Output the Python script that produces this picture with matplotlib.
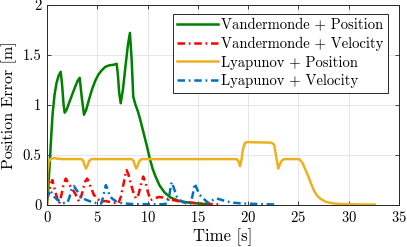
import numpy as np
import matplotlib
matplotlib.use('Agg')
import matplotlib.pyplot as plt

plt.rcParams['font.family'] = 'cmr10'
plt.rcParams['mathtext.fontset'] = 'cm'
plt.rcParams['axes.formatter.use_mathtext'] = True

# Vandermonde + Position
t_vp = [0, 0.1, 0.25, 0.4, 0.55, 0.75, 0.95, 1.15, 1.36, 1.5, 1.65, 1.76, 1.95, 2.2, 2.5,
        2.8, 3.05, 3.25, 3.45, 3.68, 3.9, 4.2, 4.5, 4.8, 5.1, 5.4, 5.8, 6.2, 6.6, 6.93,
        7.05, 7.18, 7.33, 7.55, 7.8, 8.05, 8.25, 8.42, 8.58, 8.8, 9.05, 9.3, 9.6, 9.9,
        10.2, 10.5, 10.8, 11.2, 11.7, 12.3, 13.0, 13.7, 14.5, 15.3, 16.0]
y_vp = [0, 0.12, 0.38, 0.65, 0.9, 1.1, 1.22, 1.29, 1.33, 1.2, 1.0, 0.92, 0.95, 1.02, 1.1,
        1.18, 1.24, 1.27, 1.08, 0.90, 0.95, 1.06, 1.16, 1.24, 1.3, 1.34, 1.38, 1.395, 1.4, 1.41,
        1.3, 1.12, 1.015, 1.15, 1.38, 1.6, 1.72, 1.45, 1.08, 1.0, 0.93, 0.84, 0.72, 0.6,
        0.47, 0.36, 0.28, 0.19, 0.12, 0.07, 0.04, 0.025, 0.015, 0.008, 0.004]

# Vandermonde + Velocity
t_vv = [0, 0.2, 0.35, 0.53, 0.7, 0.9, 1.05, 1.2, 1.4, 1.6, 1.86, 2.1, 2.4, 2.68, 2.95,
        3.18, 3.4, 3.6, 3.8, 4.0, 4.2, 4.45, 4.67, 5.0, 5.33, 5.8, 6.3, 6.8, 7.1, 7.35,
        7.6, 7.8, 7.92, 8.1, 8.35, 8.6, 8.85, 9.1, 9.35, 9.57, 9.8, 10.05, 10.3, 10.7,
        11.1, 11.6, 12.0, 12.5, 13.0, 13.6, 14.2, 15.0, 16.0, 17.4]
y_vv = [0.05, 0.11, 0.2, 0.245, 0.18, 0.1, 0.05, 0.01, 0.08, 0.18, 0.26, 0.22, 0.17, 0.13, 0.08,
        0.03, 0.08, 0.16, 0.23, 0.26, 0.21, 0.15, 0.095, 0.06, 0.03, 0.035, 0.025, 0.015, 0.01, 0.08,
        0.2, 0.3, 0.345, 0.3, 0.2, 0.12, 0.06, 0.1, 0.2, 0.28, 0.22, 0.12, 0.045, 0.06,
        0.075, 0.07, 0.055, 0.045, 0.035, 0.025, 0.02, 0.012, 0.006, 0.0]

# Lyapunov + Position
t_lp = [0, 0.03, 0.15, 0.3, 0.45, 0.7, 1.0, 1.5, 3.4, 3.6, 3.75, 3.88, 4.02, 4.2, 4.45,
        8.4, 8.6, 8.75, 8.88, 9.02, 9.2, 9.45, 18.9, 19.05, 19.2, 19.35, 19.5, 19.7, 20.0,
        22.3, 22.6, 22.85, 23.0, 23.15, 23.35, 23.6, 25.1, 25.4, 25.7, 26.0, 26.3, 26.6,
        26.9, 27.3, 27.8, 28.4, 29.0, 29.8, 31.0, 32.6]
y_lp = [0, 0.31, 0.42, 0.45, 0.46, 0.465, 0.46, 0.455, 0.455, 0.44, 0.39, 0.36, 0.39, 0.44, 0.455,
        0.455, 0.44, 0.39, 0.36, 0.39, 0.44, 0.455, 0.455, 0.43, 0.385, 0.45, 0.56, 0.62, 0.625,
        0.62, 0.6, 0.45, 0.36, 0.4, 0.44, 0.455, 0.455, 0.42, 0.35, 0.28, 0.2, 0.13,
        0.085, 0.05, 0.025, 0.012, 0.006, 0.003, 0.001, 0.0]

# Lyapunov + Velocity
t_lv = [0, 0.1, 0.22, 0.45, 0.7, 1.0, 1.36, 1.7, 2.05, 2.25, 2.45, 2.68, 2.9, 3.1, 3.35,
        3.8, 4.34, 4.9, 5.4, 5.6, 5.75, 5.86, 6.0, 6.26, 6.6, 6.9, 7.5, 8.5, 10.0, 11.5,
        12.0, 12.15, 12.3, 12.4, 12.6, 12.9, 13.4, 13.9, 14.3, 14.5, 14.7, 14.9, 15.2, 15.6,
        16.0, 16.2, 16.5, 16.9, 17.4, 17.9, 18.5, 19.5, 21.0, 22.7]
y_lv = [0.06, 0.12, 0.145, 0.12, 0.08, 0.05, 0.03, 0.015, 0.02, 0.08, 0.15, 0.185, 0.15, 0.12, 0.08,
        0.05, 0.03, 0.015, 0.01, 0.08, 0.16, 0.195, 0.16, 0.08, 0.05, 0.03, 0.012, 0.005, 0.003, 0.003,
        0.01, 0.08, 0.17, 0.225, 0.17, 0.08, 0.03, 0.01, 0.01, 0.1, 0.21, 0.16, 0.095, 0.055,
        0.02, 0.01, 0.045, 0.06, 0.045, 0.03, 0.018, 0.01, 0.005, 0.0]

x_ticks = [0, 5, 10, 15, 20, 25, 30, 35]
y_ticks = [0, 0.5, 1, 1.5, 2]
y_ticklabels = ['0', '0.5', '1', '1.5', '2']

fig = plt.figure(figsize=(4.07, 2.47), dpi=100)
ax = fig.add_axes([0.1155, 0.172, 0.8645, 0.808])

dash = (0, (3, 1.5, 0.7, 1.5))
ax.plot(t_vp, y_vp, color='#008000', lw=1.8, label='Vandermonde + Position')
ax.plot(t_vv, y_vv, color='#ff0000', lw=1.8, ls=dash, label='Vandermonde + Velocity')
ax.plot(t_lp, y_lp, color='#EDB120', lw=1.8, label='Lyapunov + Position')
ax.plot(t_lv, y_lv, color='#0072BD', lw=1.8, ls=dash, label='Lyapunov + Velocity')

ax.set_xlim(0, 35)
ax.set_ylim(0, 2)
ax.set_xticks(x_ticks)
ax.set_yticks(y_ticks)
ax.set_yticklabels(y_ticklabels)
ax.tick_params(direction='in', top=True, right=True, labelsize=10.5, length=3,
               width=0.6, color='#262626', pad=4)
ax.grid(True, color='#e3e3e3', lw=0.6)
ax.set_axisbelow(True)
for s in ax.spines.values():
    s.set_color('#262626')
    s.set_linewidth(0.7)

ax.set_xlabel('Time [s]', fontsize=12, labelpad=2)
ax.set_ylabel('Position Error [m]', fontsize=11.5, labelpad=4)

leg = ax.legend(loc='upper right', bbox_to_anchor=(0.969, 0.955), fontsize=10.5,
                fancybox=False, framealpha=1, edgecolor='#262626', handlelength=2.8,
                handletextpad=0.2, borderpad=0.3, labelspacing=0.32, borderaxespad=0)
leg.get_frame().set_linewidth(0.7)

fig.savefig('out.png', dpi=100)
